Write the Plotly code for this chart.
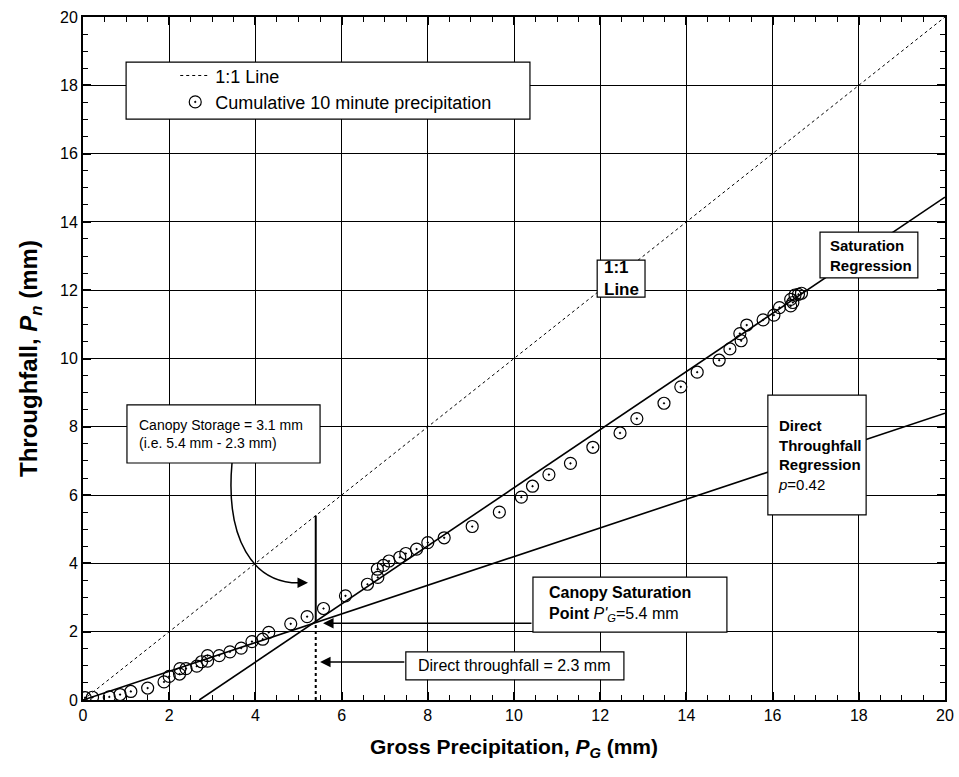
import plotly.graph_objects as go

# Cumulative 10-minute gross precipitation vs throughfall (mm)
gross_precip = [0.05, 0.22, 0.61, 0.86, 1.11, 1.50, 1.88, 2.00, 2.24, 2.25, 2.39, 2.64,
                2.75, 2.89, 2.89, 3.16, 3.41, 3.67, 3.92, 4.17, 4.31, 4.82, 5.20, 5.58,
                6.09, 6.60, 6.84, 6.83, 6.97, 7.10, 7.35, 7.49, 7.74, 8.00, 8.38, 9.03,
                9.66, 10.17, 10.43, 10.81, 11.31, 11.83, 12.46, 12.85, 13.48, 13.87,
                14.25, 14.76, 15.01, 15.27, 15.24, 15.40, 15.78, 16.03, 16.16, 16.42,
                16.42, 16.47, 16.52, 16.60, 16.67]
throughfall = [0.07, 0.08, 0.09, 0.16, 0.25, 0.35, 0.53, 0.69, 0.76, 0.92, 0.92, 0.99,
               1.12, 1.14, 1.30, 1.30, 1.41, 1.52, 1.71, 1.78, 1.98, 2.23, 2.44, 2.68,
               3.05, 3.39, 3.59, 3.83, 3.94, 4.07, 4.18, 4.29, 4.42, 4.61, 4.75, 5.08,
               5.50, 5.94, 6.26, 6.60, 6.93, 7.40, 7.82, 8.24, 8.69, 9.17,
               9.60, 9.95, 10.28, 10.52, 10.73, 10.98, 11.13, 11.27, 11.49, 11.54,
               11.73, 11.64, 11.86, 11.88, 11.91]

# Regression parameters
direct_slope = 0.42          # direct throughfall coefficient p
sat_point = 5.4              # canopy saturation point P'G (mm)
direct_at_sat = 2.3          # direct throughfall at saturation (mm)
sat_slope = 0.851            # saturation regression slope
sat_intercept_x = sat_point - direct_at_sat / sat_slope
canopy_storage = round(sat_point - direct_at_sat, 1)

x_max = 20
y_max = 20

FONT = "Liberation Sans, Arial, sans-serif"

fig = go.Figure()

# 1:1 line
fig.add_trace(go.Scatter(x=[0, x_max], y=[0, y_max], mode="lines",
                         line=dict(color="black", width=1, dash="dot"),
                         name="1:1 Line"))

# Direct throughfall regression
fig.add_trace(go.Scatter(x=[0, x_max], y=[0, direct_slope * x_max], mode="lines",
                         line=dict(color="black", width=1.6), showlegend=False))

# Saturation regression
fig.add_trace(go.Scatter(x=[sat_intercept_x, x_max],
                         y=[0, sat_slope * (x_max - sat_intercept_x)], mode="lines",
                         line=dict(color="black", width=1.6), showlegend=False))

# Canopy storage (solid) and direct throughfall (dotted) verticals at P'G
fig.add_trace(go.Scatter(x=[sat_point, sat_point], y=[direct_at_sat, direct_at_sat + canopy_storage],
                         mode="lines", line=dict(color="black", width=2), showlegend=False))
fig.add_trace(go.Scatter(x=[sat_point, sat_point], y=[0, direct_at_sat],
                         mode="lines", line=dict(color="black", width=2, dash="dot"),
                         showlegend=False))

# Observations
fig.add_trace(go.Scatter(x=gross_precip, y=throughfall, mode="markers",
                         marker=dict(symbol="circle-open-dot", size=12, color="black",
                                     line=dict(color="black", width=1.2)),
                         name="Cumulative 10 minute precipitation"))


def frame(x0, x1, y0, y1):
    fig.add_shape(type="rect", xref="x", yref="y", x0=x0, x1=x1, y0=y0, y1=y1,
                  fillcolor="white", line=dict(color="black", width=1.2), layer="above")


def label(x, y, text, size, xanchor="left"):
    fig.add_annotation(x=x, y=y, xref="x", yref="y", text=text, showarrow=False,
                       xanchor=xanchor, yanchor="middle", align="left",
                       font=dict(family=FONT, size=size, color="black"))


def arrow(x_tip, y_tip, x_tail, y_tail):
    fig.add_annotation(x=x_tip, y=y_tip, ax=x_tail, ay=y_tail, xref="x", yref="y",
                       axref="x", ayref="y", text="", showarrow=True, arrowhead=2,
                       arrowsize=1.4, arrowwidth=1.5, arrowcolor="black", standoff=0)


# Note boxes
frame(1.02, 5.50, 6.94, 8.64)
label(1.25, 7.80, "Canopy Storage = %.1f mm<br>(i.e. %.1f mm - %.1f mm)"
      % (canopy_storage, sat_point, direct_at_sat), 14)

frame(10.44, 14.94, 1.99, 3.60)
label(10.77, 2.81, "<b>Canopy Saturation</b><br><b>Point</b> <i>P'</i><sub><i>G</i></sub>=%.1f mm"
      % sat_point, 16)

frame(7.49, 12.55, 0.59, 1.41)
label(10.02, 1.0, "Direct throughfall = %.1f mm" % direct_at_sat, 16, xanchor="center")

frame(11.93, 13.04, 11.80, 12.88)
label(12.04, 12.34, "<b>1:1<br>Line</b>", 17)

frame(17.10, 19.37, 12.36, 13.70)
label(17.29, 13.03, "<b>Saturation<br>Regression</b>", 15)

frame(15.89, 18.17, 5.42, 8.93)
label(16.08, 7.17, "<b>Direct<br>Throughfall<br>Regression</b><br><i>p</i>=%.2f" % direct_slope, 15)

# Legend frame
frame(1.0, 10.37, 17.01, 18.68)

# Arrows
arrow(5.57, 2.25, 10.44, 2.25)
arrow(5.50, 1.11, 7.49, 1.11)
arrow(5.22, 3.43, 4.95, 3.43)

# Curved pointer from the canopy storage note
fig.add_shape(type="path", xref="x", yref="y",
              path="M 3.457,6.94 C 3.30,4.70 3.95,3.43 5.0,3.43",
              line=dict(color="black", width=1.5))

axis_common = dict(range=[0, 20], dtick=2, showgrid=True, gridcolor="black", gridwidth=1,
                   showline=True, linecolor="black", linewidth=2, mirror="allticks",
                   ticks="inside", ticklen=8, tickwidth=1.5, tickcolor="black",
                   zeroline=False, automargin=False,
                   minor=dict(dtick=0.5, ticks="inside", ticklen=5, tickwidth=1,
                              tickcolor="black", showgrid=False))

fig.update_xaxes(**axis_common,
                 tickfont=dict(family=FONT, size=16, color="black"),
                 title=dict(text="<b>Gross Precipitation, <i>P</i><sub><i>G</i></sub> (mm)</b>",
                            font=dict(family=FONT, size=21, color="black"), standoff=16))
fig.update_yaxes(**axis_common,
                 tickfont=dict(family=FONT, size=16, color="black"),
                 title=dict(text="<b>Throughfall, <i>P</i><sub><i>n</i></sub> (mm)</b>",
                            font=dict(family=FONT, size=24, color="black"), standoff=16))

fig.update_layout(
    width=959, height=777,
    margin=dict(l=83, r=14, t=17, b=77),
    plot_bgcolor="white", paper_bgcolor="white",
    font=dict(family=FONT, color="black"),
    legend=dict(x=0.107, y=0.941, xanchor="left", yanchor="top",
                bgcolor="rgba(0,0,0,0)", borderwidth=0,
                font=dict(family=FONT, size=18, color="black"),
                tracegroupgap=0, itemwidth=30),
)

fig.write_html("out.html")
